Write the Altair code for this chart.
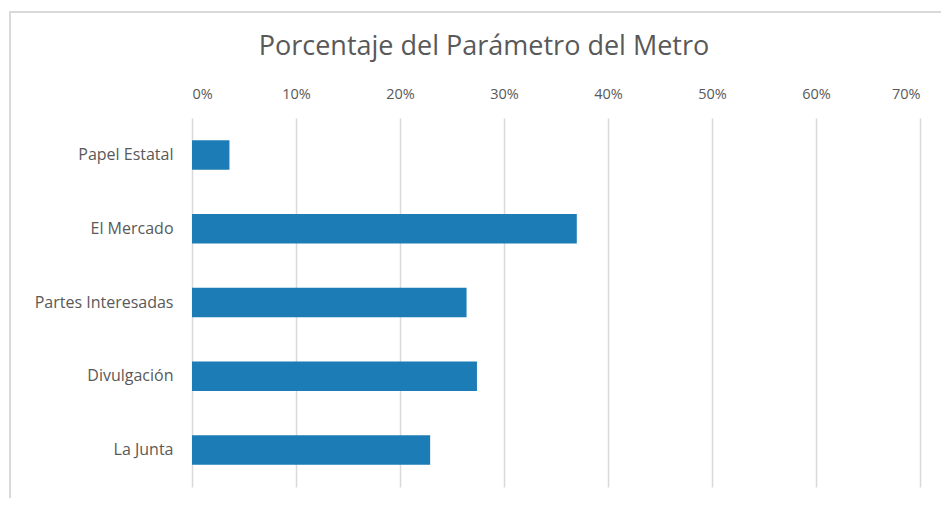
import altair as alt
import pandas as pd

categories = ["Papel Estatal", "El Mercado", "Partes Interesadas", "Divulgación", "La Junta"]
values = [0.036, 0.370, 0.264, 0.274, 0.229]

df = pd.DataFrame({"categoria": categories, "valor": values})

font = "Open Sans"
gray = "#595959"

bars = alt.Chart(df).mark_bar(color="#1c7cb5").encode(
    x=alt.X("valor:Q",
            scale=alt.Scale(domain=[0, 0.7], nice=False),
            axis=alt.Axis(orient="top", format=".0%", values=[0, 0.1, 0.2, 0.3, 0.4, 0.5, 0.6, 0.7],
                          title=None, domain=False, ticks=False, labelPadding=17,
                          labelFont=font, labelFontSize=14.5, labelColor=gray,
                          grid=True, gridColor="#d9d9d9", gridWidth=1.5)),
    y=alt.Y("categoria:N", sort=categories,
            scale=alt.Scale(paddingInner=0.6, paddingOuter=0.3),
            axis=alt.Axis(title=None, domain=False, ticks=False, labelPadding=19,
                          labelFont=font, labelFontSize=16, labelColor=gray, grid=False)),
)

frame = alt.Chart(df).mark_rect(fill=None, stroke="#d9d9d9", strokeWidth=1.5, clip=False).encode(
    x=alt.value(-182), x2=alt.value(800), y=alt.value(-106), y2=alt.value(400)
)

chart = alt.layer(frame, bars).properties(
    width=728,
    height=369,
    padding={"left": 184, "top": 110, "right": 21, "bottom": 11},
    autosize=alt.AutoSizeParams(type="none"),
    title=alt.TitleParams("Porcentaje del Parámetro del Metro", font=font, fontSize=27,
                          fontWeight="normal", color=gray, offset=-50, dx=-72, anchor="middle"),
).configure_view(stroke=None)

chart.save("out.html", embed_options={"renderer": "svg", "actions": False})
